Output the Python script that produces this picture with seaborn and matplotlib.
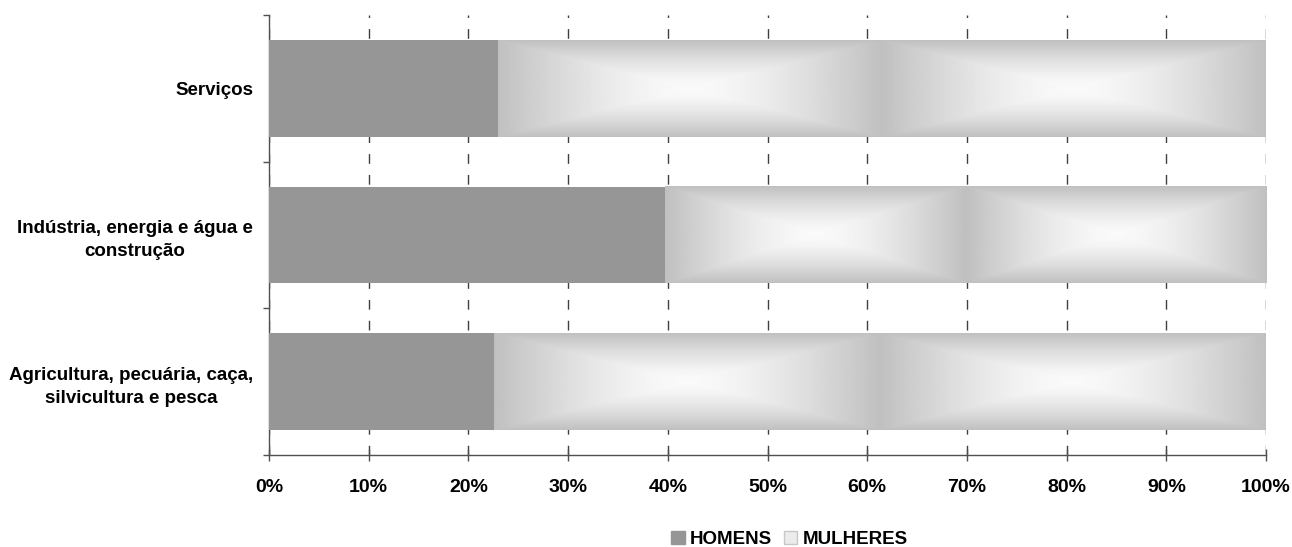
import numpy as np
import matplotlib
matplotlib.use('Agg')
import matplotlib.pyplot as plt
import pandas as pd
import seaborn as sb
from matplotlib.patches import Patch

# dados (percentagens por sexo em cada setor)
setores = ['Serviços',
           'Indústria, energia e água e\nconstrução',
           'Agricultura, pecuária, caça,\nsilvicultura e pesca']
homens = [23.0, 39.7, 22.6]
mulheres = [77.0, 60.3, 77.4]
ticks_x = [0, 10, 20, 30, 40, 50, 60, 70, 80, 90, 100]
ticks_lab = ['0%', '10%', '20%', '30%', '40%', '50%', '60%', '70%', '80%', '90%', '100%']
legenda = ['HOMENS', 'MULHERES']


# gradiente retangular "a partir do centro" (2 blocos lado a lado)
def gradiente(nx=300, ny=100, blocos=2):
    u = np.linspace(-1, 1, nx)
    v = np.linspace(-1, 1, ny)
    U, V = np.meshgrid(u, v)
    t = np.maximum(np.abs(U), np.abs(V))
    bloco = 0.98 + (0.753 - 0.98) * t ** 1.5
    return np.hstack([bloco] * blocos)


sb.set_style('white')
plt.rcParams['font.family'] = ['Liberation Sans', 'DejaVu Sans']
plt.rcParams['font.weight'] = 'bold'
plt.rcParams['font.size'] = 13.5
plt.rcParams['text.color'] = 'black'
plt.rcParams['xtick.color'] = 'black'
plt.rcParams['ytick.color'] = 'black'

df = pd.DataFrame({'setor': setores, 'homens': homens, 'mulheres': mulheres})
df['total'] = df['homens'] + df['mulheres']

fig = plt.figure(figsize=(12.92, 5.47), dpi=100)
ax = fig.add_axes([0.2082, 0.1682, 0.9799 - 0.2082, 0.9726 - 0.1682])

sb.barplot(data=df, x='total', y='setor', color='#c0c0c0', saturation=1,
           width=0.66, ax=ax, zorder=2, edgecolor='none', linewidth=0)
barras = list(ax.patches)
for p, h in zip(barras, df['homens']):
    y0 = p.get_y()
    hgt = p.get_height()
    x1 = p.get_x() + p.get_width()
    ax.imshow(gradiente(), cmap='gray', vmin=0, vmax=1, aspect='auto',
              extent=(h, x1, y0 + hgt, y0), zorder=3, interpolation='bilinear')

sb.barplot(data=df, x='homens', y='setor', color='#969696', saturation=1,
           width=0.66, ax=ax, zorder=4, edgecolor='none', linewidth=0)

ax.set_xlim(0, 100)
ax.set_ylim(2.5, -0.5)
ax.set_xlabel('')
ax.set_ylabel('')

# eixo x
ax.set_xticks(ticks_x, labels=ticks_lab)
ax.xaxis.grid(True, linestyle=(0, (7, 8)), color='#404040', linewidth=1)
ax.set_axisbelow(True)
ax.tick_params(axis='x', bottom=True, direction='inout', length=8.6, width=1,
               color='#505050', pad=13, labelsize=14)

# eixo y: marcas entre categorias, rotulos no centro
ax.set_yticks([-0.5, 0.5, 1.5, 2.5], labels=['', '', '', ''])
ax.set_yticks([0, 1, 2], labels=setores, minor=True)
ax.tick_params(axis='y', which='major', left=True, direction='out', length=4.5,
               width=1, color='#505050')
ax.tick_params(axis='y', which='minor', left=True, length=0, pad=11.5,
               labelsize=13.5)
for t in ax.get_yticklabels(minor=True):
    t.set_multialignment('center')
    t.set_linespacing(1.45)

for s in ['top', 'right']:
    ax.spines[s].set_visible(False)
for s in ['left', 'bottom']:
    ax.spines[s].set_color('#505050')
    ax.spines[s].set_linewidth(1)

handles = [Patch(facecolor='#969696', edgecolor='#969696'),
           Patch(facecolor='#ececec', edgecolor='#c8c8c8')]
fig.legend(handles, legenda, loc='center', bbox_to_anchor=(0.611, 0.013),
           ncol=2, frameon=False, fontsize=13.5, handlelength=0.7,
           handleheight=0.7, handletextpad=0.3, columnspacing=0.6)

fig.savefig('out.png', dpi=100)
